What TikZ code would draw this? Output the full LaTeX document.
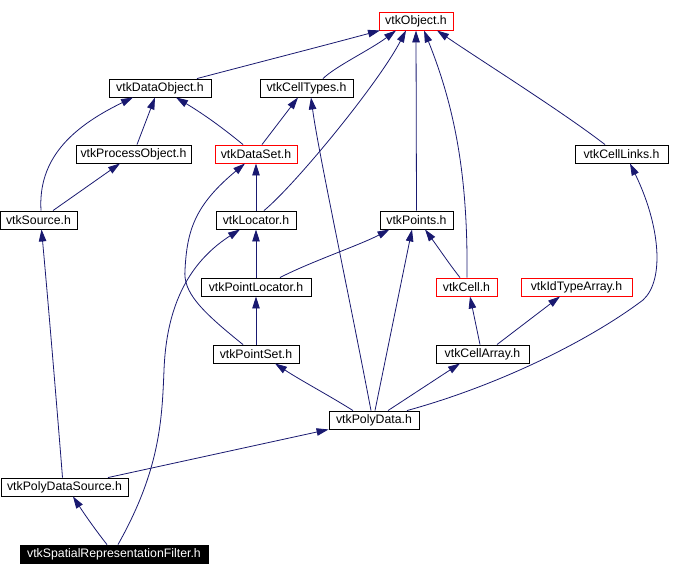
\documentclass[tikz,border=0pt]{standalone}
\usepackage{fontspec}
\setmainfont{Liberation Sans}
\usetikzlibrary{arrows.meta}
\definecolor{edgeblue}{HTML}{191970}
\definecolor{boxred}{HTML}{FF0000}
\tikzset{
  box/.style={draw=black, line width=0.9pt, fill=white, inner sep=0pt, minimum height=18pt,
              font=\fontsize{12.3}{14}\selectfont, text=black},
  redbox/.style={box, draw=boxred},
  blackbox/.style={box, fill=black, text=white},
  edge/.style={draw=edgeblue, line width=0.8pt, -{Triangle[length=12pt,width=7.5pt]}},
}
\begin{document}
\begin{tikzpicture}[x=1pt,y=-1pt]
\useasboundingbox (0,0) rectangle (684,576);
% nodes
\node[redbox, minimum width=74pt] (obj) at (416,21) {vtkObject.h};
\node[box, minimum width=102pt] (dobj) at (160,88) {vtkDataObject.h};
\node[box, minimum width=93pt] (ctypes) at (306.5,88) {vtkCellTypes.h};
\node[box, minimum width=115pt] (pobj) at (133.5,154) {vtkProcessObject.h};
\node[redbox, minimum width=82pt] (dset) at (256,154) {vtkDataSet.h};
\node[box, minimum width=93pt] (clinks) at (621.5,154) {vtkCellLinks.h};
\node[box, minimum width=77pt] (src) at (38.5,220) {vtkSource.h};
\node[box, minimum width=80pt] (loc) at (256,220) {vtkLocator.h};
\node[box, minimum width=73pt] (pts) at (416.5,220) {vtkPoints.h};
\node[box, minimum width=110pt] (ploc) at (256,287) {vtkPointLocator.h};
\node[redbox, minimum width=61pt] (cell) at (466.5,287) {vtkCell.h};
\node[redbox, minimum width=111pt] (idta) at (576.5,287) {vtkIdTypeArray.h};
\node[box, minimum width=86pt] (pset) at (256,354) {vtkPointSet.h};
\node[box, minimum width=93pt] (carr) at (482.5,354) {vtkCellArray.h};
\node[box, minimum width=90pt] (pdata) at (374,420) {vtkPolyData.h};
\node[box, minimum width=127pt] (pdsrc) at (64.5,487) {vtkPolyDataSource.h};
\node[blackbox, minimum width=188pt] (filt) at (114,554) {vtkSpatialRepresentationFilter.h};
% edges into vtkObject
\draw[edge] ([xshift=37pt]dobj.north) .. controls (260,62) and (330,44) .. ([xshift=-36pt]obj.south);
\draw[edge] ([xshift=16.5pt]ctypes.north) .. controls (336,66) and (370,50) .. ([xshift=-20pt]obj.south);
\draw[edge] ([xshift=8pt]loc.north) .. controls (295,185) and (378,84) .. ([xshift=-10pt]obj.south);
\draw[edge] (pts.north) -- (obj.south);
\draw[edge] ([xshift=0.5pt]cell.north) .. controls (468,180) and (456,110) .. ([xshift=8pt]obj.south);
\draw[edge] ([xshift=-16.5pt]clinks.north) .. controls (560,110) and (480,60) .. ([xshift=21pt]obj.south);
% edges into vtkDataObject
\draw[edge] ([xshift=3.5pt]pobj.north) -- ([xshift=-5pt]dobj.south);
\draw[edge] ([xshift=2.5pt]src.north) .. controls (38,160) and (70,128) .. ([xshift=-27pt]dobj.south);
\draw[edge] ([xshift=-13pt]dset.north) .. controls (218,124) and (200,112) .. ([xshift=16pt]dobj.south);
% edges into vtkCellTypes
\draw[edge] ([xshift=6pt]dset.north) -- ([xshift=-8.5pt]ctypes.south);
\draw[edge] ([xshift=-3pt]pdata.north) .. controls (348,290) and (318,150) .. ([xshift=4.5pt]ctypes.south);
% vtkProcessObject
\draw[edge] ([xshift=14.5pt]src.north) -- ([xshift=-13.5pt]pobj.south);
% vtkDataSet
\draw[edge] (loc.north) -- (dset.south);
\draw[edge] ([xshift=-13pt]pset.north) .. controls (200,310) and (183,292) .. (185,270)
  .. controls (187,230) and (195,205) .. ([xshift=-11pt]dset.south);
% vtkLocator
\draw[edge] ([xshift=4pt]filt.north) .. controls (160,470) and (162,420) .. (164,370)
  .. controls (166,320) and (180,268) .. ([xshift=-16pt]loc.south);
\draw[edge] (ploc.north) -- (loc.south);
% vtkPoints
\draw[edge] ([xshift=24pt]ploc.north) .. controls (310,262) and (360,245) .. ([xshift=-27pt]pts.south);
\draw[edge] ([xshift=1pt]pdata.north) -- ([xshift=-4.5pt]pts.south);
\draw[edge] ([xshift=-6.5pt]cell.north) .. controls (450,265) and (440,250) .. ([xshift=8.5pt]pts.south);
% vtkPointLocator
\draw[edge] (pset.north) -- (ploc.south);
% vtkPointSet
\draw[edge] ([xshift=-21pt]pdata.north) .. controls (330,396) and (300,380) .. ([xshift=19pt]pset.south);
% vtkCell / vtkIdTypeArray
\draw[edge] ([xshift=-2.5pt]carr.north) -- ([xshift=3.5pt]cell.south);
\draw[edge] ([xshift=14.5pt]carr.north) -- ([xshift=-16.5pt]idta.south);
% vtkCellArray
\draw[edge] ([xshift=14pt]pdata.north) -- ([xshift=-22.5pt]carr.south);
% vtkCellLinks
\draw[edge] ([xshift=33pt]pdata.north) .. controls (500,385) and (590,340) .. (643,300)
  .. controls (665,280) and (660,225) .. ([xshift=8.5pt]clinks.south);
% vtkPolyData
\draw[edge] ([xshift=43.5pt]pdsrc.north) -- (pdata.south west);
% vtkSource
\draw[edge] ([xshift=-2pt]pdsrc.north) .. controls (58,420) and (48,300) .. ([xshift=3pt]src.south);
% vtkPolyDataSource
\draw[edge] ([xshift=-7pt]filt.north) .. controls (97,532) and (85,515) .. ([xshift=8.5pt]pdsrc.south);
\end{tikzpicture}
\end{document}
